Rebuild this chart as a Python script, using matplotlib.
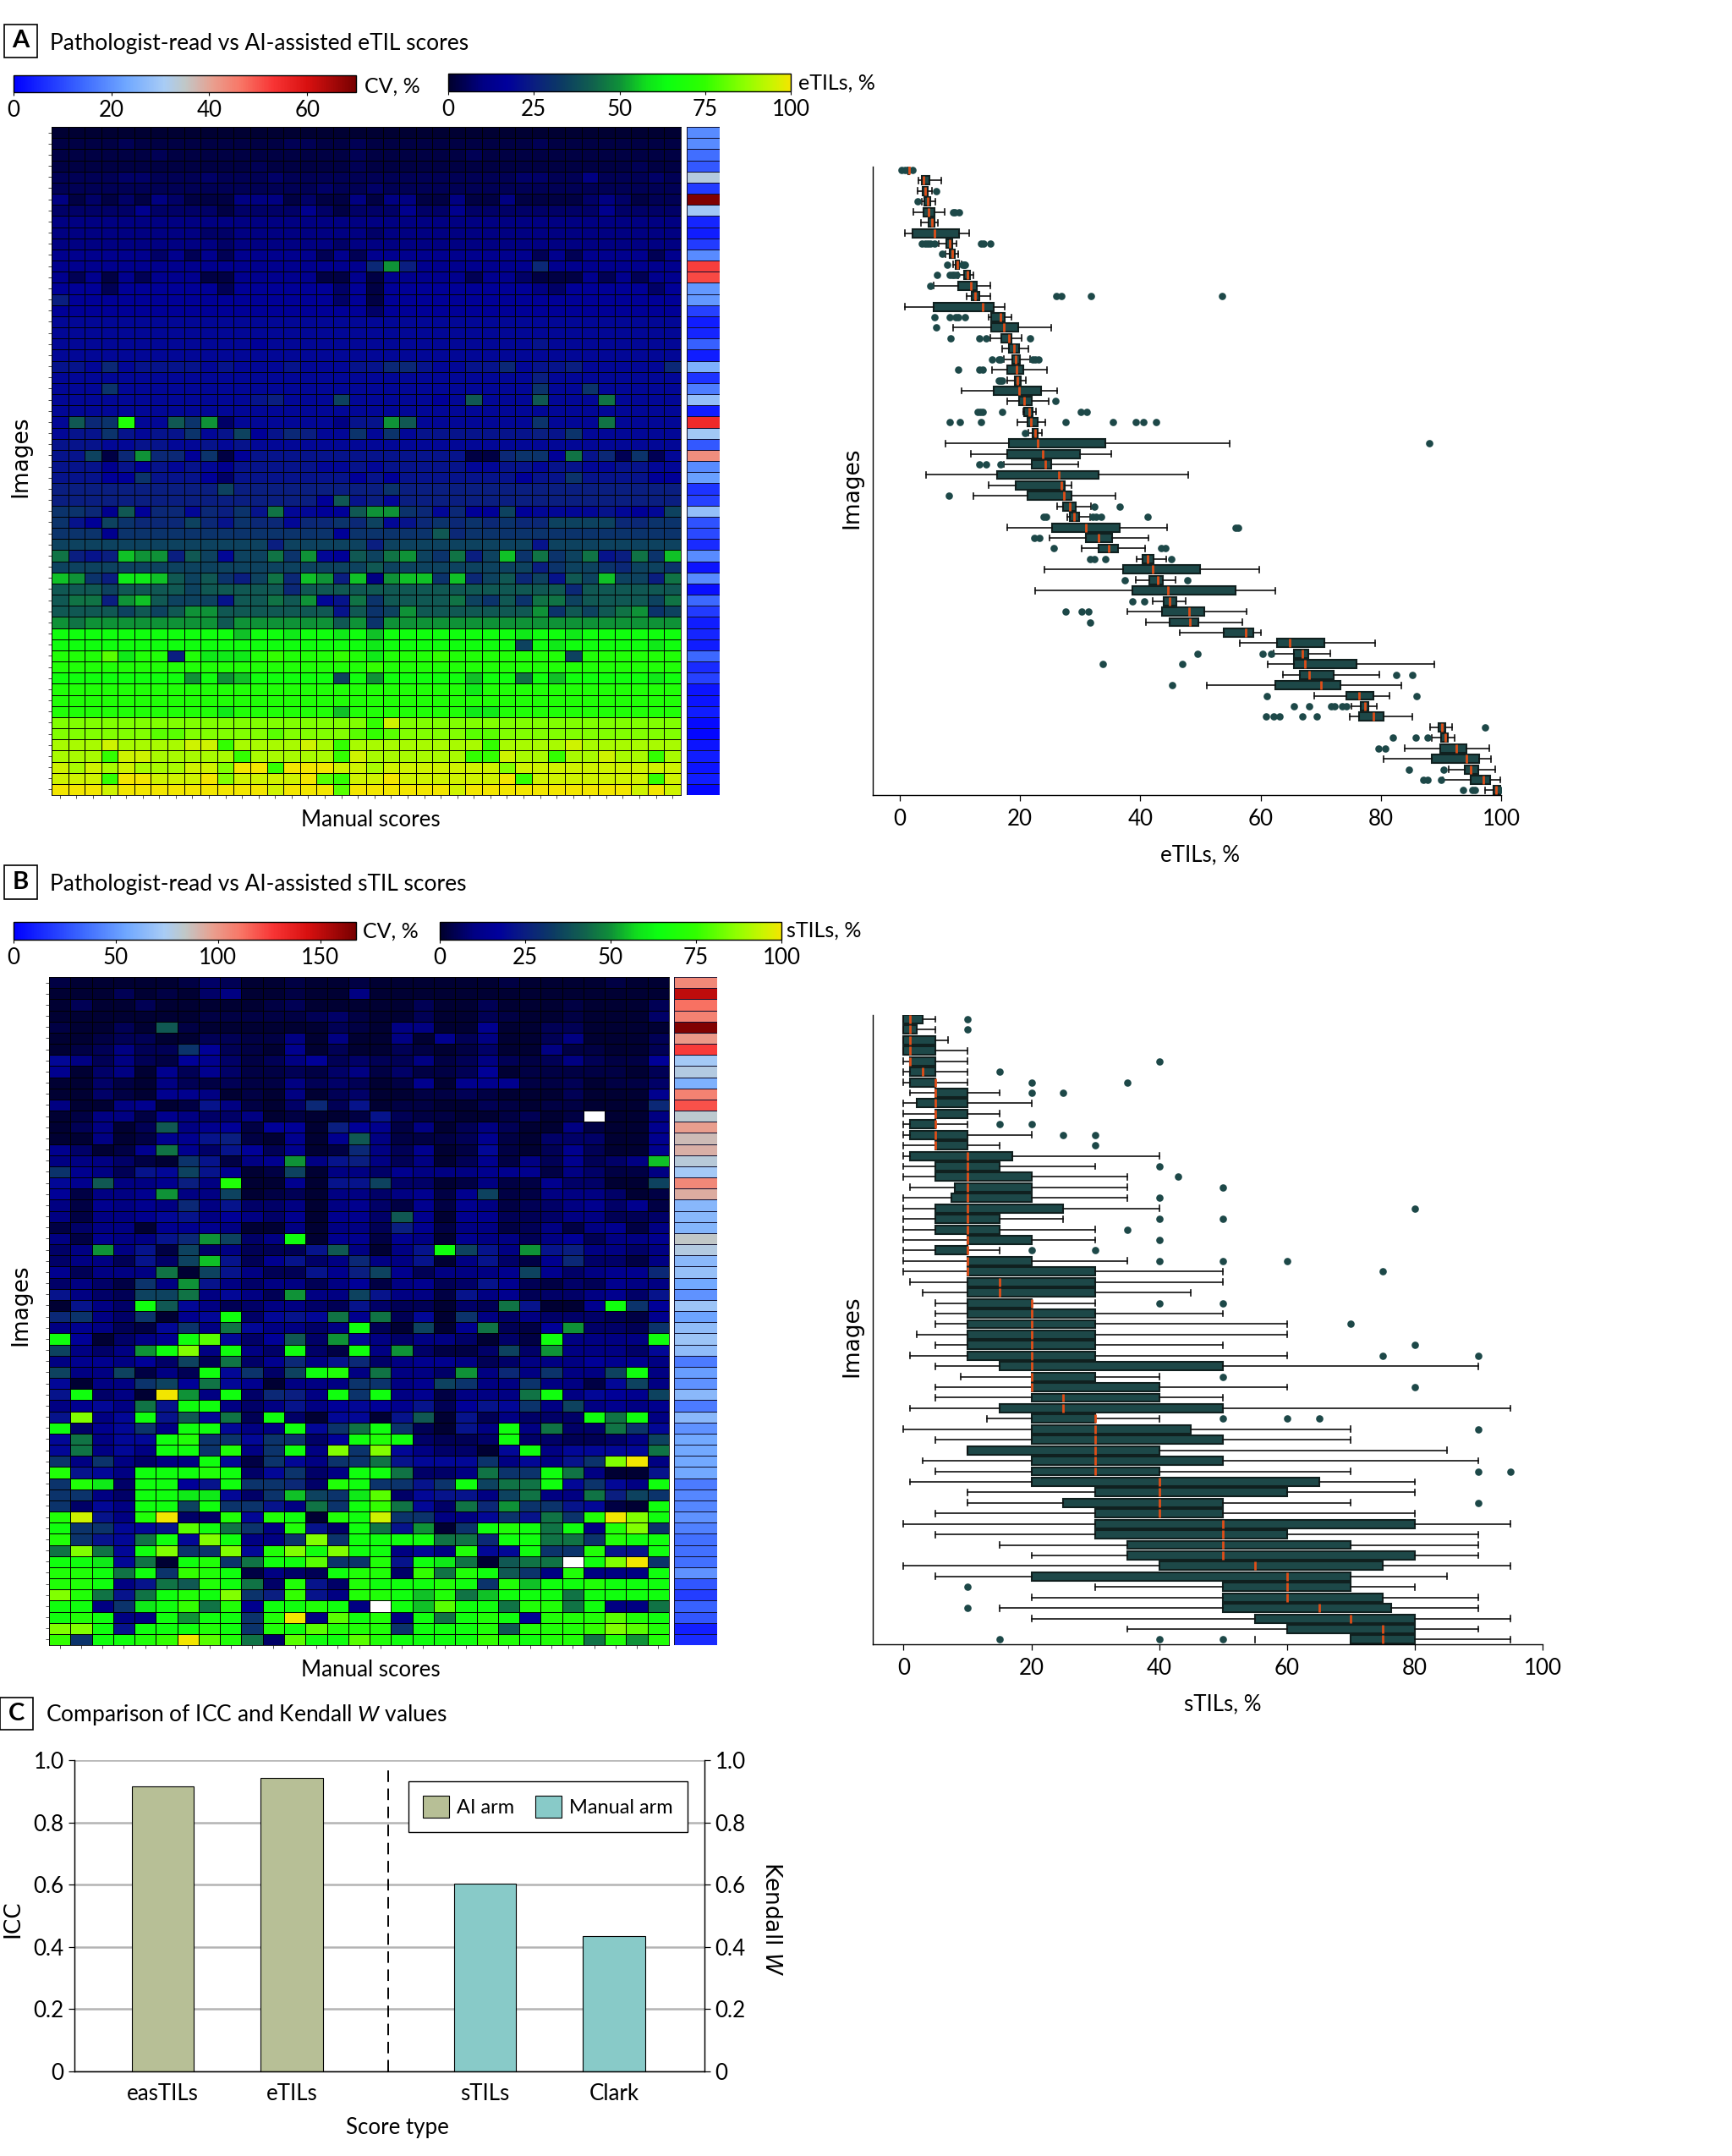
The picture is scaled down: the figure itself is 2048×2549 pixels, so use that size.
import numpy as np
import matplotlib
matplotlib.use('Agg')
import matplotlib.pyplot as plt
from matplotlib.colors import LinearSegmentedColormap, Normalize
from matplotlib.cm import ScalarMappable
from matplotlib.patches import Patch, Rectangle

W, H = 2048, 2549
plt.rcParams['font.family'] = ['Lato', 'DejaVu Sans']
plt.rcParams['mathtext.fontset'] = 'custom'
plt.rcParams['mathtext.rm'] = 'Lato'
plt.rcParams['mathtext.it'] = 'Lato:italic'
FS = 9.3

# heatmap cells in coarse colour levels, one letter per cell
level_letters = 'abcdefghijklmnopqrstuvwxyz'
level_values = [1, 3, 5, 7, 10, 13, 16, 19, 22, 25, 28, 31, 35, 40, 45, 50, 55, 60,
                65, 70, 75, 80, 85, 90, 95, 100]

etil_heat = [
    'aaaaa aaaaa aaaaa aaaaa aaaaa aaaaa aaaaa aaa',
    'bbbbc bbbbb bbbbc cbbcb bbbbb bbbbc bbbbb bbb',
    'bbbbb bcbbb bbbbb bbbcb bbbbb cbbbb bbbbb bbb',
    'bbbbb bbbbb bbcbb bbbcb bbbbb bbbbb bbbbb cbb',
    'ccccd dcccd cccdc ccccc ccccc cccdd ccecc cdc',
    'ccccc ccccc ccccc cdccd ccccc ccccc ccccc ccc',
    'ebdbd bedbb beeeb dbbeb eebbe bbebb bbded bcc',
    'ddddd fdddd bdddd fdbdd dfddf ddddd dddfd ddd',
    'eeeee eeeee eeeee eeeee eeeee eeeee eeeee eee',
    'eeeee eeeed deeee eeeed eeeee eeeee eeeee eee',
    'eeeee eeeee deeee eedee eeeee eeeee eeeee eee',
    'fffff fdfcf cffff fcfcf fffff ffffc fcfff fcf',
    'fffff fffff fffff ffffk pjfff ffffk fffff fff',
    'fcfbf cfffb bffff fbbfb fffff cffdb bbfcf cff',
    'gggcg ggggg cgggg ggdgb ggggg gggge dgggg gdg',
    'jgggg ggggg ggggg ggdgb ggggg ggggg ggggg ggg',
    'ggggg ggggg ggggg ggggd ggggg ggggg ggggg ggg',
    'hhhhh hhhhh hhhhh hhhhh hhhhh hhhhh hhhhh hhh',
    'hhhhh hhhhh hhhhh hhhhh hhhhh hhhhh hhhhh hhh',
    'hhhhh hhhhh hhghh hhhhh hhhhh hhhhi hhhhh hhh',
    'hhhhh hhhhh hhhhh hhhhh hhhhh hhhhh hhhhh hhh',
    'iihkh iiiih ihhhi hhhii kkihh iikhi ijhhh hhk',
    'hhhhh hhhhh hhhhh hhhhh hhhhh hhhhj hhhhh hhh',
    'hhhlh hhhhh hhhhh hhhhh hhhhh hhhhl hhlhh hhh',
    'hhhhh hhhhh hhijh hhmhh hhhgh nhhhn hhhoh hhh',
    'hhhhh hhhhh hhhhh hhhhh hhhhh hhhhh hhhhh hhh',
    'hnklt hhnlp dhhhh hheii pnhhh hhhhl hhhoh hhh',
    'hiili hiilh imgik jhhlh lhiii iiiij ilhhh hhh',
    'iiihh iihhi hihhh hhhhh hhhhh hhhhh hhhhh hhh',
    'iimbk pkkgl bgiii iiiii iiiii bbkll goikc lch',
    'iiifi gihih fiiii ihhih iiiii hhiih iihhi ihh',
    'iiigg liiig diiii iiigi giiii iiigi iliii igg',
    'jjjjj jjjjj mjjjj jjjjj ljjjj jjjjj jjjjj jjj',
    'jjjjj jjjjj jjjjj jgnij hjjjj jjjjj jjjjj jjj',
    'llkfn gkkhk jlioh hggnp plkhk ggmgh hhhih ghm',
    'ligml kkkmk ilkkh kklkm hiklk lklkk mmmmk kll',
    'lllfl lllll lllll llgll lllnk lllll lllll lll',
    'mmmmm mmmmm mmmjm mmmmj mmmmm mmmmi mmmmm mmm',
    'ojijq ppjnm hmmol phgnm opmlo jmqlo lmoij olq',
    'mmmmm mmmmm mmmmm mmmmn mmmmm mmmmj lmmlk mml',
    'qpljr rqnmn ljmok qpjqe pqqlq kmnkm inmqm mjo',
    'nnnmn nnnmn nnnnk nnnnn nnnnn nnnnn nknnn nnn',
    'noojp qnmmm innon phiol nnnno mlnlo omnnn nmo',
    'nnnnm nmnpp nnnnn nninl mpnnn nnnnp lnmno plm',
    'poppp ppppp npppp ppnpl ppppp ppppp ppppp ppp',
    'sssss sssss sqssr ssrsq sssss sssrs srsss sss',
    'sssss sssss sssss ssssr sssss sssms rssss srs',
    'tttvr ttjtr rrtut ttutr tttut ttttt tmttt ttt',
    'ttttt ttttt ttttt ttttu ttttt ttttt ttttt ttt',
    'sssss sssps pqsss ssmsp sssss qssos qssss srs',
    'ttttt ttttt ttttt ttttt ttttt rtttt ttttt ttt',
    'ttttt ttttt ttttt ttttt ttttt ttttt ttttt ttt',
    'ttttt ttttt rtttt ttqtt ttttt rrttt ttttt ttt',
    'wwwww wwwww wwwww wwwwu ywwww wwwww wwwww www',
    'wwwww wvvww wwwvw wwwvu vwwww vvwww wwwww www',
    'xxxyx xxxyy uxxxx yxuxx xxxxx xuxxx xyxxx xxx',
    'xxxuy yxxxx xuxxx xxuyx xxxxx uuyxx uxxyx xux',
    'yxyxy xxxyy wzzuz zzyyx yyyyy yywyy yyyyy yyy',
    'yyyuz zyyyz wyyyy zvuyy zyyyy yyzuy yyyyy yuy',
    'zzzyz zzzzz zzzyz zzvzz zzzzy zzzzz zzzzz yzy',
]

stil_heat = [
    'baaaa abdca abaab aaaaa abaaa abaa',
    'aaaca badea abaae aaaaa aaaaa aaaa',
    'acaac aaaaa bcaaa aacaa caaab aaac',
    'aaaaa aabbb bbcdb aacaa cbaab aaad',
    'baaca nbaaa aaacb aeeaa faacc aaaa',
    'aabcc aaccb beaea aeafc eaace aaac',
    'abcec clgcb afaca acbab daaeb baac',
    'hecec bgfdb cegcd ccebc ecbce cbbg',
    'fadea fcfdb bcbde bdbbc gabbb bbac',
    'aadba ecbcb becdc abfaf ffbbc abbd',
    'aadba ffeab aeacd aabbc baaac aaaf',
    'eaaef abieb adkci abbaa cbabb aaak',
    'abeeb fedde abaab icbba abcab .aae',
    'aceac nefgb ggajg fbeac ecaae baaf',
    'aaeab ffijb afafn ebbbc fbadd daaf',
    'fdabf ofdig cfabk ecfab hbacf caaf',
    'eeedb alibe fpeij eceac fbecf cdeq',
    'lfeci hmifa bmaee dfeee fffbe dbbe',
    'hfnee fjeta afaii mddab ebbfd daam',
    'gbeef peema bcaee defbf mbbee edab',
    'ebfef ekeid deaef dbfbf ebcde fdfb',
    'ebeef hiege dfaff dnfaf fccde eccd',
    'bdeea fffea aeaee cjfbe ebceb efbe',
    'ebfee ikpmd esaff bfeaf eeceg ceef',
    'depei bmdec ccine aeism iepij eede',
    'deeci dmqic fidek eeiae idbfk ddbe',
    'fceee oamie ccifj mfcee efmfd effk',
    'dedbl epied eeceg befcd ifcbd cfee',
    'iedcm moehe cpeem ieebi efcdd efdi',
    'aieds nhecd eedci dccad coiaa fslg',
    'kledl afhsd hihof ochal ededd dcbf',
    'efecb hleoh eedes camaf ocbgp ddcl',
    'sgade fsvhd gndph edeed adbse eees',
    'medep swese dsdbs epdbb dmdpe eedh',
    'effeg dmcod fkeik deffe cdeee gffe',
    'meemb ecshl dmste oeedp ekele emse',
    'haeel mgohf aeeel lefml eelee bhme',
    'isdea zpesd kjesl sefbe eeose hgfm',
    'efheo issed eiegh gficg ihlem efef',
    'iwehs inhoc sdahh ainai ceddd sose',
    'sdfhl esshe eshlo slcai eseod dolh',
    'hoehh stllh lldgs tsdcc dsddc cdem',
    'hoehe sslte lsewl whedd ahseh hhho',
    'leled eeshb lhell oihhh lehei lwze',
    'tihes sstsd hldes sodde ollso eaai',
    'ltrds sgisl lkdts llils moosh lhes',
    'lleds srrhd lqmlr vdhii emoee ojml',
    'ldhes smsll ieols uohdo kplli hbas',
    'tyiet zddth tsats yllee hliol tzws',
    'sllhh ivsol etids oipal stsos etwl',
    'tliho shwse elwls sssoo kssoo ltss',
    'owohs wllwh twsws sehet hhsll tiis',
    'ssrho astlo ssvll tisro anoo. swzl',
    'ttsos lutsb edcst tduot snlet eees',
    'ttsei ontso dtidt sssts ltqss tsss',
    'wtoio stswl juiet tsqto qssso ssss',
    'sselr suotf sstse .sqvs sotto seeo',
    'stsee spssl tzevs tesos tsgtt tvts',
    'wwsis sstsl tsvtt tlsss tnttt uwvt',
    'ulsst uzvto dvssv tssss utstt otpt',
]

etil_cv = [19, 19, 15, 12, 33, 8, 69, 30, 5, 4, 8, 19, 52, 51, 21, 21, 9, 4, 5, 13,
           4, 25, 7, 17, 28, 4, 55, 30, 12, 43, 19, 22, 7, 9, 28, 11, 10, 6, 19, 3,
           19, 2, 14, 8, 4, 5, 4, 14, 6, 9, 3, 3, 4, 1.5, 1, 3, 4, 3, 4, 1]
stil_cv = [105, 150, 112, 107, 165, 100, 125, 72, 78, 60, 107, 120, 82, 98, 88, 92, 80, 72, 105, 93,
           63, 63, 62, 84, 78, 64, 68, 56, 48, 70, 54, 66, 70, 66, 40, 52, 48, 64, 40, 64,
           48, 56, 56, 56, 56, 40, 44, 44, 48, 42, 36, 36, 36, 48, 28, 20, 32, 28, 10, 14]

# eTIL box plot, one entry per image
etil_wlo = [1.45, 3.1, 2.9, 3.7, 2.3, 3.5, 0.8, 6.5, 7.6, 8.8, 9.7, 5.6, 11.1, 0.9, 14.8, 8.9, 15.1, 17.0, 17.3, 15.3,
            17.9, 10.2, 17.9, 20.6, 19.5, 21.4, 7.6, 11.8, 17.3, 4.4, 14.8, 12.2, 26.1, 27.8, 17.9, 24.9, 30.2, 39.4, 24.0, 39.3,
            22.5, 42.1, 37.8, 40.9, 46.5, 56.5, 62.2, 61.2, 63.7, 51.1, 68.9, 75.1, 74.8, 88.2, 88.4, 84.0, 80.4, 91.3, 90.3, 97.3]
etil_q1 = [1.45, 3.6, 3.8, 4.1, 4.0, 4.8, 2.1, 7.7, 8.3, 9.3, 10.7, 9.7, 12.0, 5.6, 15.2, 15.2, 16.9, 18.2, 18.7, 17.8,
           19.1, 15.6, 19.9, 20.7, 21.2, 22.1, 18.1, 17.9, 22.0, 16.2, 19.2, 21.2, 27.2, 28.3, 25.3, 31.0, 33.1, 40.4, 37.2, 41.5,
           38.7, 43.9, 43.6, 44.9, 53.9, 62.7, 65.5, 65.5, 66.5, 62.5, 74.3, 76.6, 76.4, 89.6, 90.0, 89.9, 88.5, 94.0, 94.9, 98.7]
etil_med = [1.5, 4.0, 4.2, 4.6, 4.8, 5.3, 5.7, 8.3, 8.7, 9.6, 11.2, 11.8, 12.5, 13.8, 16.7, 17.3, 18.1, 19.0, 19.3, 19.4,
            19.6, 19.8, 20.7, 21.5, 21.8, 22.5, 22.9, 23.7, 24.2, 26.4, 26.9, 27.3, 28.3, 29.0, 30.9, 33.1, 34.8, 41.2, 42.1, 42.9,
            44.6, 44.8, 48.1, 48.3, 57.5, 64.8, 66.9, 67.3, 68.1, 70.1, 76.4, 77.3, 78.8, 90.2, 90.7, 92.6, 94.3, 95.0, 97.1, 99.2]
etil_q3 = [1.55, 4.9, 4.7, 5.0, 5.8, 5.8, 9.9, 8.7, 9.1, 9.9, 11.7, 12.8, 13.2, 15.6, 17.5, 19.7, 18.6, 19.8, 20.0, 20.5,
           20.1, 23.5, 22.0, 22.1, 22.9, 22.9, 34.2, 29.9, 25.2, 33.0, 27.4, 28.6, 29.2, 29.8, 36.5, 35.3, 36.3, 42.2, 49.9, 43.8,
           55.9, 46.0, 50.6, 49.7, 58.8, 70.6, 68.0, 76.0, 72.1, 73.3, 78.7, 77.9, 80.4, 90.7, 91.1, 94.3, 96.3, 96.2, 98.2, 99.8]
etil_whi = [1.55, 6.9, 5.4, 5.9, 7.5, 6.3, 11.5, 9.4, 9.7, 10.2, 12.2, 15.1, 15.1, 17.5, 18.6, 25.2, 20.3, 21.4, 21.7, 24.5,
            21.0, 26.1, 24.7, 22.7, 24.2, 23.6, 54.8, 35.2, 29.7, 48.0, 28.6, 35.8, 31.8, 31.7, 44.5, 41.3, 40.8, 44.3, 59.8, 45.9,
            62.5, 47.5, 57.6, 57.0, 60.0, 79.0, 71.6, 88.9, 79.8, 83.4, 81.4, 79.3, 85.3, 91.8, 92.2, 98.1, 98.3, 99.0, 99.9, 100]
etil_fliers = [
    [0.3, 0.8, 1.3, 2.1], [], [6.0], [2.9], [8.9, 9.1, 9.9], [], [], [3.7, 4.2, 4.7, 5.1, 5.7, 13.5, 13.9, 15.1],
    [7.1], [7.9, 10.4, 10.7, 10.9], [6.2, 8.3, 8.7, 9.0, 9.4], [5.0], [26.0, 26.9, 31.8, 53.6], [],
    [5.7, 8.3, 9.3, 9.7, 10.8], [6.0], [8.5, 13.2, 14.3, 21.7], [], [15.4, 16.4, 16.7, 22.1, 22.5, 23.1],
    [9.7, 13.2, 13.8], [16.4, 16.7, 17.0], [], [25.9], [12.9, 13.3, 13.8, 17.0, 30.1, 31.1],
    [8.3, 10.0, 13.5, 27.5, 35.4, 39.3, 40.5, 42.6], [20.8], [88.0], [], [13.2, 14.3, 16.7], [], [], [8.1],
    [32.3, 36.6], [23.9, 24.3, 32.1, 32.7, 33.5, 41.2], [55.9, 56.3], [22.4, 23.2], [25.6, 43.4, 44.2],
    [31.6, 32.3, 34.2, 45.2], [], [37.4, 47.8], [], [38.7, 40.7], [27.6, 30.3, 31.3], [31.6], [], [],
    [49.5, 60.3, 61.7], [33.7, 47.0], [82.6, 85.3], [45.3], [61.0, 86.0],
    [65.6, 68.1, 71.7, 72.3, 73.5, 74.3], [60.9, 62.1, 63.2, 66.9, 69.3], [97.3], [82.0, 85.8, 87.7],
    [79.6, 80.8], [], [84.6, 90.5], [87.1, 87.7, 90.0], [93.7, 95.2, 95.6, 99.9],
]

# sTIL box plot
stil_wlo = [0, 0, 0, 0, 0, 0, 0, 1, 0, 0, 0, 0, 0, 0, 0, 0, 1, 0, 0, 0,
            0, 0, 0, 0, 0, 1, 3, 5, 5, 5, 2, 5, 1, 5, 9, 5, 5, 1, 13, 0,
            5, 10, 3, 5, 1, 10, 10, 5, 0, 5, 15, 20, 0, 5, 30, 20, 15, 20, 35, 55]
stil_q1 = [0, 0, 0, 0, 1, 1, 1, 5, 2, 5, 1, 1, 5, 1, 5, 5, 8, 7.5, 5, 5,
           5, 10, 5, 10, 10, 10, 10, 10, 10, 10, 10, 10, 10, 15, 20, 20, 20, 15, 20, 20,
           20, 10, 20, 20, 20, 30, 25, 30, 30, 30, 35, 35, 40, 20, 50, 50, 50, 55, 60, 70]
stil_med = [1, 1, 1, 1, 1, 3, 5, 5, 5, 5, 5, 5, 5, 10, 10, 10, 10, 10, 10, 10,
            10, 10, 10, 10, 10, 15, 15, 20, 20, 20, 20, 20, 20, 20, 20, 20, 25, 25, 30, 30,
            30, 30, 30, 30, 40, 40, 40, 40, 50, 50, 50, 50, 55, 60, 60, 60, 65, 70, 75, 75]
stil_q3 = [3, 2, 5, 5, 5, 5, 5, 10, 10, 10, 5, 10, 10, 17, 15, 20, 20, 20, 25, 15,
           15, 20, 10, 20, 30, 30, 30, 20, 30, 30, 30, 30, 30, 50, 30, 40, 40, 50, 30, 45,
           50, 40, 50, 40, 65, 60, 50, 50, 80, 60, 70, 80, 75, 70, 70, 75, 76.3, 80, 80, 80]
stil_whi = [5, 5, 7, 10, 10, 10, 10, 15, 20, 15, 10, 20, 15, 40, 30, 35, 35, 35, 40, 25,
            30, 30, 15, 35, 50, 50, 45, 30, 50, 60, 60, 50, 60, 90, 40, 60, 50, 95, 40, 70,
            70, 85, 90, 70, 80, 80, 70, 80, 95, 90, 90, 90, 95, 85, 80, 90, 90, 95, 90, 95]
stil_fliers = [
    [10], [10], [], [], [40], [15], [20, 35], [20, 25], [], [], [15, 20], [25, 30], [30], [], [40], [43], [50],
    [40], [80], [40, 50], [35], [40], [20, 30], [40, 50, 60], [75], [], [], [40, 50], [], [70], [], [80],
    [75, 90], [], [50], [80], [], [], [50, 60, 65], [90], [], [], [], [90, 95], [], [], [90], [], [], [], [], [],
    [], [], [10], [], [10], [], [], [15, 40, 50],
]

score_types = ['easTILs', 'eTILs', 'sTILs', 'Clark']
score_pos = [0, 1, 2.5, 3.5]
icc_values = [0.917, 0.943, 0.604, 0.436]
score_colors = ['#b7bf96', '#b7bf96', '#88cac8', '#88cac8']

til_cmap = LinearSegmentedColormap.from_list('til', [
    (0.0, '#00002c'), (0.1, '#000084'), (0.17, '#00009c'), (0.25, '#0a1e80'),
    (0.33, '#0c3a64'), (0.42, '#11604e'), (0.5, '#0f9038'), (0.58, '#10e01c'),
    (0.64, '#0cff10'), (0.75, '#30ff00'), (0.87, '#90ff00'), (0.95, '#ccf400'), (1.0, '#f2e600')])
til_cmap.set_bad('white')
cv_cmap = LinearSegmentedColormap.from_list('cv', [
    (0.0, '#0000ff'), (0.2, '#3c68ff'), (0.33, '#70a8ff'), (0.44, '#a8ccf5'), (0.5, '#c0c8c8'),
    (0.58, '#e8a090'), (0.66, '#f87868'), (0.76, '#f83434'), (0.86, '#d81010'), (1.0, '#780000')])


def decode(rows):
    table = dict(zip(level_letters, level_values))
    table['.'] = np.nan
    return np.array([[table[c] for c in r.replace(' ', '')] for r in rows], dtype=float)


def axes_px(x0, y0, x1, y1):
    return fig.add_axes([x0 / W, 1 - y1 / H, (x1 - x0) / W, (y1 - y0) / H])


def text_px(x, y, s, **kw):
    kw.setdefault('ha', 'center')
    kw.setdefault('va', 'center')
    kw.setdefault('fontsize', FS)
    fig.text(x / W, 1 - y / H, s, **kw)


def panel_title(x0, y0, x1, y1, letter, title, tx, ty):
    fig.add_artist(Rectangle((x0 / W, 1 - y1 / H), (x1 - x0) / W, (y1 - y0) / H, transform=fig.transFigure,
                             facecolor='white', edgecolor='black', linewidth=0.6))
    text_px((x0 + x1) / 2, (y0 + y1) / 2, letter, fontweight='bold', fontsize=10.5)
    text_px(tx, ty, title, ha='left', fontsize=9.5)


def color_bar(x0, y0, x1, y1, cmap, vmax, ticks, label, lx, ly):
    cax = axes_px(x0, y0, x1, y1)
    cb = fig.colorbar(ScalarMappable(Normalize(0, vmax), cmap), cax=cax, orientation='horizontal', ticks=ticks)
    cb.outline.set_linewidth(0.5)
    cb.ax.tick_params(labelsize=FS, length=1.5, width=0.4, pad=1.6)
    text_px(lx, ly, label, ha='left', fontsize=9.0)


def heat(x0, y0, x1, y1, sx0, sx1, rows, cv, vmax):
    data = decode(rows)
    ax = axes_px(x0, y0, x1, y1)
    ax.pcolormesh(data, cmap=til_cmap, vmin=0, vmax=100, edgecolors='black', linewidth=0.32)
    ax.set_ylim(data.shape[0], 0)
    ax.set_xticks(np.arange(data.shape[1]) + 0.5, labels=[])
    ax.set_yticks(np.arange(data.shape[0]) + 0.5, labels=[])
    ax.tick_params(length=1.5, width=0.3, color='#333333')
    for s in ax.spines.values():
        s.set_linewidth(0.3)
    strip = axes_px(sx0, y0, sx1, y1)
    strip.pcolormesh(np.array(cv)[:, None], cmap=cv_cmap, vmin=0, vmax=vmax, edgecolors='#101030', linewidth=0.32)
    strip.set_ylim(len(cv), 0)
    strip.axis('off')


def boxes(x0, y0, x1, y1, xmin, ymin, ymax, wlo, q1, med, q3, whi, fliers):
    ax = axes_px(x0, y0, x1, y1)
    stats = [dict(whislo=a, q1=b, med=c, q3=d, whishi=e, fliers=f)
             for a, b, c, d, e, f in zip(wlo, q1, med, q3, whi, fliers)]
    teal = '#1d4848'
    out = ax.bxp(stats, positions=np.arange(len(stats)), widths=0.8, capwidths=0.55, orientation='horizontal',
                 patch_artist=True, manage_ticks=False,
                 boxprops=dict(facecolor=teal, edgecolor='#10201f', linewidth=0.75),
                 medianprops=dict(color='#e04e18', linewidth=1.0, solid_capstyle='butt'),
                 whiskerprops=dict(color='#111111', linewidth=0.6),
                 capprops=dict(color='#111111', linewidth=0.6),
                 flierprops=dict(marker='o', markerfacecolor=teal, markeredgecolor=teal, markersize=2.1))
    ax.set_xlim(xmin, 100)
    ax.set_ylim(ymax, ymin)
    ax.set_xticks([0, 20, 40, 60, 80, 100])
    ax.set_yticks([])
    ax.tick_params(axis='x', labelsize=FS, length=2.5, width=0.45, pad=3.4)
    ax.spines[['top', 'right']].set_visible(False)
    ax.spines[['left', 'bottom']].set_linewidth(0.5)
    return ax, out


fig = plt.figure(figsize=(W / 200, H / 200), dpi=200)

# panel A
panel_title(5, 29, 44, 68, 'A', 'Pathologist-read vs AI-assisted eTIL scores', 59, 52)
color_bar(16, 89, 421, 109, cv_cmap, 70, [0, 20, 40, 60], 'CV, %', 431, 102)
color_bar(530, 87, 935, 108, til_cmap, 100, [0, 25, 50, 75, 100], 'eTILs, %', 944, 98)
heat(61, 150, 805, 940, 812, 851, etil_heat, etil_cv, 70)
boxes(1032, 197, 1775, 940, -4.5, -0.32, 59.45, etil_wlo, etil_q1, etil_med, etil_q3, etil_whi, etil_fliers)
text_px(24, 540, 'Images', rotation=90, family='DejaVu Sans', fontsize=9.5)
text_px(1007, 577, 'Images', rotation=90, family='DejaVu Sans', fontsize=9.5)
text_px(438, 970, 'Manual scores')
text_px(1419, 1011, 'eTILs, %')

# panel B
panel_title(5, 1023, 44, 1063, 'B', 'Pathologist-read vs AI-assisted sTIL scores', 59, 1046)
color_bar(16, 1090, 421, 1111, cv_cmap, 167.5, [0, 50, 100, 150], 'CV, %', 429, 1101)
color_bar(520, 1090, 924, 1111, til_cmap, 100, [0, 25, 50, 75, 100], 'sTILs, %', 930, 1100)
heat(58, 1155, 791, 1945, 797, 848, stil_heat, stil_cv, 167.5)
ax_b, out_b = boxes(1032, 1200, 1824, 1944, -4.83, -0.4, 59.45, stil_wlo, stil_q1, stil_med, stil_q3, stil_whi, stil_fliers)
out_b['whiskers'][118].set_visible(False)
text_px(24, 1543, 'Images', rotation=90, family='DejaVu Sans', fontsize=9.5)
text_px(1007, 1580, 'Images', rotation=90, family='DejaVu Sans', fontsize=9.5)
text_px(438, 1974, 'Manual scores')
text_px(1446, 2015, 'sTILs, %')

# panel C
panel_title(0, 2007, 39, 2045, 'C', r'Comparison of ICC and Kendall $W$ values', 54, 2028)
ax = axes_px(88, 2081, 833, 2449)
ax.yaxis.grid(True, color='#b4b4b4', linewidth=0.9)
ax.set_axisbelow(True)
ax.bar(score_pos, icc_values, width=0.482, color=score_colors, edgecolor='black', linewidth=0.4)
ax.axvline(1.75, ymax=0.986, color='black', linewidth=0.7, linestyle=(0, (7, 4)))
ax.set_xlim(-0.685, 4.203)
ax.set_ylim(0, 1)
ax.set_xticks(score_pos, score_types)
ax.set_yticks([0, 0.2, 0.4, 0.6, 0.8, 1.0], ['0', '0.2', '0.4', '0.6', '0.8', '1.0'])
ax.tick_params(axis='x', length=0, labelsize=FS, pad=5)
ax.tick_params(axis='y', labelsize=FS, length=2.5, width=0.45, pad=2)
ax.spines['top'].set_visible(False)
ax.spines[['left', 'right', 'bottom']].set_linewidth(0.45)
ax2 = ax.twinx()
ax2.set_ylim(0, 1)
ax2.set_yticks([0, 0.2, 0.4, 0.6, 0.8, 1.0], ['0', '0.2', '0.4', '0.6', '0.8', '1.0'])
ax2.tick_params(axis='y', labelsize=FS, length=2.5, width=0.45, pad=2)
ax2.spines['top'].set_visible(False)
ax2.spines[['left', 'right', 'bottom']].set_linewidth(0.45)
leg = ax2.legend(handles=[Patch(facecolor='#b7bf96', edgecolor='black', linewidth=0.4, label='AI arm'),
                          Patch(facecolor='#88cac8', edgecolor='black', linewidth=0.4, label='Manual arm')],
                 ncol=2, loc='upper left', bbox_to_anchor=(0.53, 0.932), borderaxespad=0, fontsize=8.5,
                 fancybox=False, framealpha=1, edgecolor='black', handlelength=1.3, handleheight=1.3,
                 columnspacing=1.05, handletextpad=0.4, borderpad=0.72)
leg.get_frame().set_linewidth(0.5)
text_px(15, 2269, 'ICC', rotation=90, family='DejaVu Sans', fontsize=9.5)
plt.rcParams['mathtext.fontset'] = 'dejavusans'
text_px(912, 2269, r'Kendall $\mathit{W}$', rotation=270, family='DejaVu Sans', fontsize=9.5)
plt.rcParams['mathtext.fontset'] = 'custom'
text_px(470, 2515, 'Score type')

fig.savefig('out.png', dpi=200)
